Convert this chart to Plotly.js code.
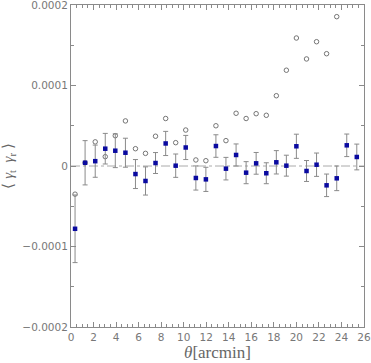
<!DOCTYPE html>
<html>
<head>
<meta charset="utf-8">
<script src="https://cdn.plot.ly/plotly-3.0.1.min.js"></script>
<style>html,body{margin:0;padding:0;background:#fff;}#chart{width:371px;height:363px;}</style>
</head>
<body>
<div id="chart"></div>
<script>
// separation theta [arcmin]
const theta = [0.36,1.25,2.15,3.04,3.93,4.83,5.72,6.61,7.50,8.40,9.29,10.18,11.08,11.97,12.86,13.75,14.65,15.54,16.43,17.33,18.22,19.11,20.00,20.90,21.79,22.68,23.58,24.47,25.36];
// <gamma_t gamma_r> (filled points)
const gtgr = [-7.8e-5,0.4e-5,0.6e-5,2.15e-5,1.9e-5,1.65e-5,-1.0e-5,-1.86e-5,0.37e-5,2.8e-5,0.04e-5,2.3e-5,-1.49e-5,-1.66e-5,2.48e-5,-0.33e-5,1.37e-5,-0.83e-5,0.33e-5,-0.9e-5,0.46e-5,0.04e-5,2.45e-5,-0.62e-5,0.16e-5,-2.4e-5,-1.53e-5,2.57e-5,1.12e-5];
const gtgrErr = [4.2e-5,2.75e-5,2.0e-5,1.9e-5,2.1e-5,1.8e-5,1.8e-5,1.75e-5,1.3e-5,1.5e-5,1.45e-5,1.5e-5,1.5e-5,1.5e-5,1.4e-5,1.4e-5,1.37e-5,1.37e-5,1.35e-5,1.3e-5,1.45e-5,1.3e-5,1.5e-5,1.3e-5,1.45e-5,1.4e-5,1.53e-5,1.4e-5,1.6e-5];
// comparison (open points)
const openVals = [-3.5e-5,0.4e-5,3.0e-5,1.16e-5,3.76e-5,5.6e-5,2.15e-5,1.57e-5,3.7e-5,5.9e-5,2.9e-5,4.47e-5,0.75e-5,0.66e-5,5.0e-5,3.15e-5,6.55e-5,5.9e-5,6.5e-5,6.3e-5,8.73e-5,11.9e-5,15.9e-5,13.3e-5,15.44e-5,13.95e-5,18.55e-5,null,null];
// axis ticks
const yTickVals = [-0.0002,-0.0001,0,0.0001,0.0002];
const yTickText = ["\u22120.0002","\u22120.0001","0","0.0001","0.0002"];

const grey = '#8a8a8a';
const traces = [
  {x: theta, y: openVals, type: 'scatter', mode: 'markers',
   marker: {symbol: 'circle-open', size: 4.5, color: '#666', line: {width: 0.9, color: '#666'}},
   cliponaxis: false, hoverinfo: 'skip'},
  {x: theta, y: gtgr, type: 'scatter', mode: 'markers',
   error_y: {type: 'data', array: gtgrErr, visible: true, color: grey, thickness: 1, width: 2.5},
   marker: {symbol: 'square', size: 4.5, color: '#0a0aa0'}}
];
const axFont = {family: 'DejaVu Sans, sans-serif', size: 10.5, color: '#777'};
const layout = {
  width: 371, height: 363,
  margin: {l: 71, r: 7, t: 5, b: 36},
  paper_bgcolor: '#fff', plot_bgcolor: '#fff',
  showlegend: false,
  font: axFont,
  xaxis: {
    range: [0, 26], dtick: 2, tick0: 0,
    ticks: 'inside', ticklen: 5, tickcolor: grey, tickwidth: 1,
    minor: {dtick: 0.5, ticks: 'inside', ticklen: 3, tickcolor: grey},
    showline: true, linecolor: grey, linewidth: 1, mirror: 'allticks',
    showgrid: false, zeroline: false, tickfont: axFont, ticklabeloverflow: 'allow',
    title: {text: '<i>θ</i>[arcmin]', font: {family: 'Liberation Serif, serif', size: 17, color: '#666'}, standoff: 4}
  },
  yaxis: {
    range: [-0.0002000001, 0.0002000001], tickvals: yTickVals, ticktext: yTickText,
    ticks: 'inside', ticklen: 5, tickcolor: grey, tickwidth: 1,
    minor: {dtick: 0.00005, ticks: 'inside', ticklen: 3, tickcolor: grey},
    showline: true, linecolor: grey, linewidth: 1, mirror: 'allticks',
    showgrid: false, zeroline: false, tickfont: axFont, ticklabeloverflow: 'allow',
    title: {text: '\u27E8 <i>γ</i><sub>t</sub>  <i>γ</i><sub>r</sub> \u27E9', font: {family: 'Liberation Serif, serif', size: 15, color: '#666'}, standoff: 6}
  },
  shapes: [{type: 'line', xref: 'paper', x0: 0, x1: 1, yref: 'y', y0: 0, y1: 0,
            line: {color: '#aaa', width: 1, dash: 'dashdot'}, layer: 'below'}]
};
Plotly.newPlot('chart', traces, layout, {displayModeBar: false, staticPlot: true});
</script>
</body>
</html>
